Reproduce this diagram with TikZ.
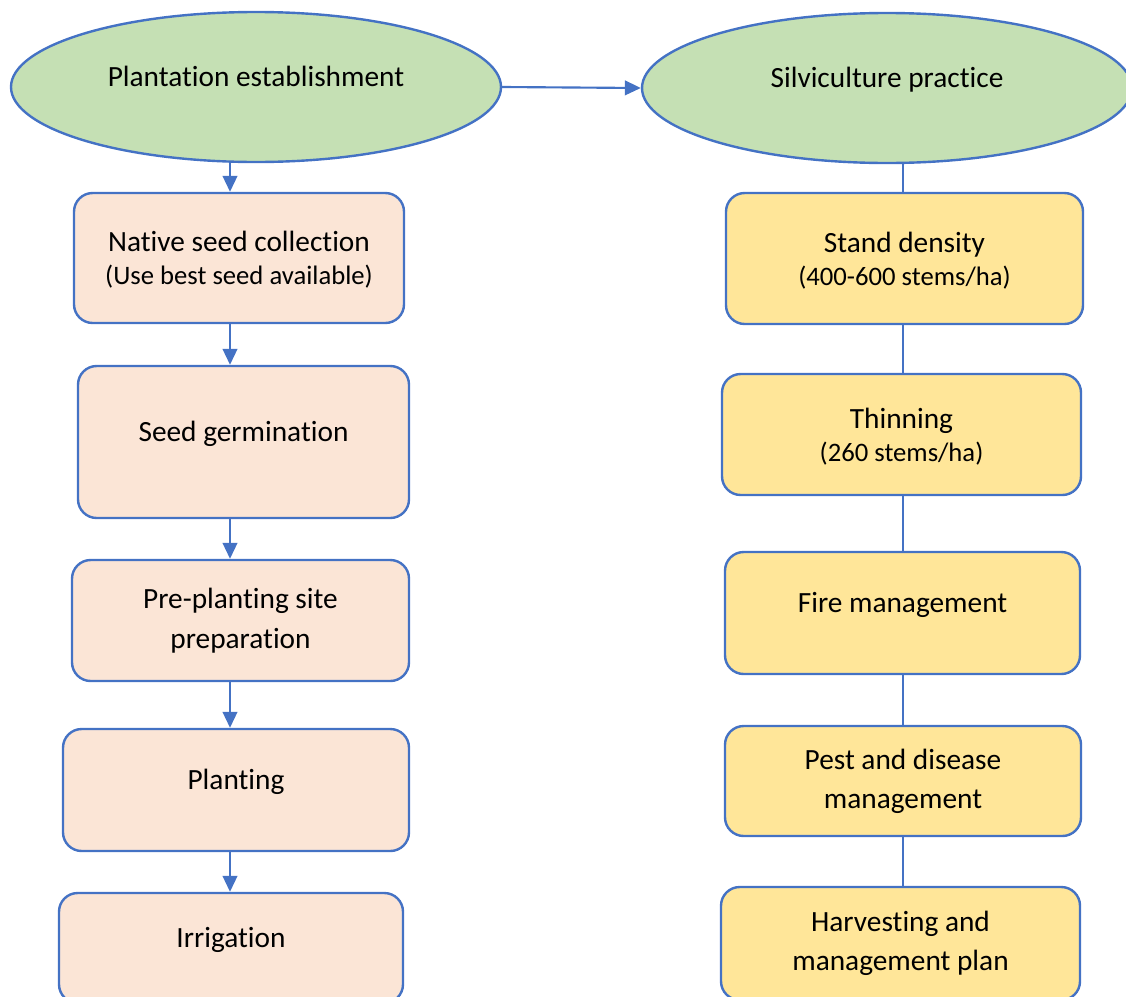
\documentclass[tikz,border=0pt]{standalone}
\usepackage{fontspec}
\setmainfont{Carlito}[RawFeature={-liga;-clig;-calt}]
\usepackage{tikz}
\usetikzlibrary{shapes.geometric,arrows.meta}
\definecolor{lineblue}{HTML}{4472C4}
\definecolor{ellgreen}{HTML}{C5E0B4}
\definecolor{boxpeach}{HTML}{FBE5D6}
\definecolor{boxyellow}{HTML}{FFE699}
\newcommand{\subtxt}{\fontsize{20pt}{25pt}\selectfont}
\tikzset{
 	stage/.style={ellipse,draw=lineblue,fill=ellgreen,line width=1.8pt,minimum width=367.5pt,minimum height=112.5pt},
 	plant/.style={draw=lineblue,fill=boxpeach,line width=1.8pt,rounded corners=14pt,align=center},
 	silv/.style={plant,fill=boxyellow},
 	wh/.style 2 args={minimum width=#1*0.75pt,minimum height=#2*0.75pt},
 	lift/.style={text height=16.5pt,text depth=17pt},
 	drop/.style={text depth=0pt},
 	arr/.style={lineblue,line width=1.6pt,-{Triangle[length=12pt,width=11pt]}},
 	link/.style={lineblue,line width=1.6pt}}

\begin{document}
\begin{tikzpicture}[x=0.75pt,y=-0.75pt,font=\fontsize{22pt}{29.5pt}\selectfont]
 	\useasboundingbox (0,0) rectangle (1126,996);
 	\clip (0,0) rectangle (1126,996);
 	\node[stage,lift] (pe) at (256,87) {Plantation establishment};
 	\node[stage,lift] (sp) at (887,88) {Silviculture practice};
 	\node[plant,wh={330}{130},drop] (nsc) at (239,258) {Native seed collection\\[-4.5pt]\subtxt(Use best seed available)};
 	\node[plant,wh={331}{152},lift] (sg) at (243.5,442) {Seed germination};
 	\node[plant,wh={337}{121}] (pp) at (240.5,620.5) {Pre-planting site\\preparation};
 	\node[plant,wh={346}{122},lift] (pl) at (236,790) {Planting};
 	\node[plant,wh={344}{110},lift] (ir) at (231,948) {Irrigation};
 	\node[silv,wh={357}{131},drop] (sd) at (904.5,258.5) {Stand density\\[-4.5pt]\subtxt(400-600 stems/ha)};
 	\node[silv,wh={359}{121},drop] (th) at (901.5,434.5) {Thinning\\[-4.5pt]\subtxt(260 stems/ha)};
 	\node[silv,wh={355}{122},lift] (fm) at (902.5,613) {Fire management};
 	\node[silv,wh={356}{110}] (pd) at (903,781) {Pest and disease\\management};
 	\node[silv,wh={359}{113}] (hm) at (900.5,943.5) {Harvesting and\\management plan};
 	\coordinate (lx) at (230,0);
 	\coordinate (rx) at (903,0);
 	\path[arr]
 	(pe.east) edge (sp.west)
 	(pe.south -| lx) edge (nsc.north -| lx)
 	(nsc.south -| lx) edge (sg.north -| lx)
 	(sg.south -| lx) edge (pp.north -| lx)
 	(pp.south -| lx) edge (pl.north -| lx)
 	(pl.south -| lx) edge (ir.north -| lx);
 	\path[link]
 	(sp.south -| rx) edge (sd.north -| rx)
 	(sd.south -| rx) edge (th.north -| rx)
 	(th.south -| rx) edge (fm.north -| rx)
 	(fm.south -| rx) edge (pd.north -| rx)
 	(pd.south -| rx) edge (hm.north -| rx);
\end{tikzpicture}
\end{document}
